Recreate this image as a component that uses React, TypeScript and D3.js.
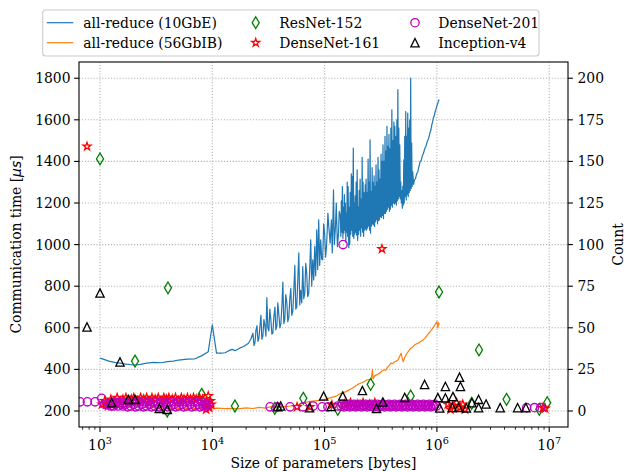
import React from 'react';
import * as d3 from 'd3';

// ---- chart data ----
// all-reduce time (µs) vs message size (bytes), 10GbE
const tenGbE: [number, number][] = [
  [1.0e3, 454], [1.1e3, 447], [1.2e3, 440], [1.35e3, 434], [1.5e3, 430], [1.7e3, 425], [2.0e3, 421],
  [2.3e3, 424], [2.6e3, 430], [3.0e3, 434], [3.5e3, 432], [4.0e3, 437], [4.5e3, 440], [5.0e3, 445],
  [6.0e3, 449], [7.0e3, 451], [8.0e3, 465], [9.2e3, 485], [1.0e4, 614], [1.09e4, 478], [1.2e4, 478],
  [1.3e4, 480], [1.4e4, 490], [1.5e4, 496], [1.6e4, 490], [1.75e4, 502], [1.9e4, 510], [2.1e4, 526],
  [2.2e4, 545],
  [2.30e4, 574], [2.35e4, 515], [2.40e4, 530], [2.45e4, 590], [2.50e4, 610], [2.55e4, 535], [2.60e4, 548],
  [2.65e4, 600], [2.71e4, 660], [2.76e4, 545], [2.82e4, 560], [2.88e4, 640], [2.94e4, 612], [3.00e4, 560],
  [3.06e4, 745], [3.12e4, 600], [3.19e4, 585], [3.25e4, 690], [3.32e4, 640], [3.39e4, 570], [3.46e4, 575],
  [3.53e4, 650], [3.61e4, 700], [3.68e4, 590], [3.76e4, 610], [3.83e4, 720], [3.91e4, 665], [4.00e4, 600],
  [4.08e4, 620], [4.16e4, 700], [4.25e4, 820], [4.33e4, 620], [4.42e4, 640], [4.51e4, 760], [4.61e4, 720],
  [4.70e4, 630], [4.80e4, 650], [4.90e4, 740], [5.00e4, 790], [5.10e4, 660], [5.21e4, 680], [5.32e4, 780],
  [5.43e4, 900], [5.54e4, 690], [5.65e4, 700], [5.77e4, 830], [5.89e4, 960], [6.01e4, 710], [6.13e4, 780],
  [6.26e4, 720], [6.39e4, 894], [6.52e4, 740], [6.66e4, 767], [6.79e4, 910], [6.93e4, 863], [7.07e4, 750],
  [7.22e4, 766], [7.37e4, 880], [7.52e4, 1023], [7.68e4, 800], [7.84e4, 927], [8.00e4, 830], [8.16e4, 991],
  [8.33e4, 850], [8.51e4, 1071], [8.68e4, 880], [8.86e4, 1119], [9.04e4, 900], [9.23e4, 1023], [9.42e4, 930],
  [9.61e4, 927], [9.81e4, 1100], [1.00e5, 1055], [1.02e5, 940], [1.04e5, 991], [1.07e5, 1150], [1.09e5, 1087],
  [1.12e5, 1007], [1.15e5, 1119], [1.17e5, 960], [1.20e5, 1263], [1.22e5, 1000], [1.25e5, 1087],
  [1.27e5, 1199], [1.30e5, 990], [1.33e5, 1055], [1.35e5, 1160], [1.38e5, 1135], [1.395e5, 1040],
  [1.41e5, 1210], [1.425e5, 1060], [1.44e5, 1279], [1.455e5, 1030], [1.47e5, 1180], [1.485e5, 1055],
  [1.50e5, 1240], [1.515e5, 1070], [1.53e5, 1199], [1.545e5, 1010], [1.56e5, 1150], [1.575e5, 1060],
  [1.59e5, 1300], [1.605e5, 1040], [1.62e5, 1279], [1.64e5, 985], [1.66e5, 1180], [1.675e5, 1000],
  [1.69e5, 1251], [1.71e5, 1050], [1.73e5, 1340], [1.745e5, 1070], [1.76e5, 1327], [1.78e5, 1040],
  [1.80e5, 1464], [1.82e5, 1030], [1.84e5, 1200], [1.855e5, 1050], [1.87e5, 1235], [1.89e5, 1060],
  [1.91e5, 1300], [1.93e5, 1045], [1.95e5, 1360], [1.97e5, 1020], [1.99e5, 1180], [2.01e5, 1050],
  [2.03e5, 1260], [2.05e5, 1070], [2.07e5, 1315], [2.095e5, 1040], [2.12e5, 1219], [2.14e5, 1080],
  [2.16e5, 1420], [2.18e5, 1060], [2.20e5, 1300], [2.225e5, 1040], [2.25e5, 1250], [2.275e5, 1070],
  [2.30e5, 1287], [2.32e5, 1075], [2.34e5, 1315], [2.365e5, 1070], [2.39e5, 1250], [2.415e5, 1080],
  [2.44e5, 1411], [2.465e5, 1090], [2.49e5, 1300], [2.515e5, 1070], [2.54e5, 1504], [2.565e5, 1055],
  [2.59e5, 1255], [2.62e5, 1090], [2.65e5, 1370], [2.675e5, 1100], [2.70e5, 1299], [2.73e5, 1095],
  [2.76e5, 1330], [2.785e5, 1087], [2.81e5, 1280], [2.84e5, 1110], [2.87e5, 1383], [2.90e5, 1120],
  [2.93e5, 1300], [2.96e5, 1100], [2.99e5, 1419], [3.02e5, 1115], [3.05e5, 1360], [3.08e5, 1120],
  [3.11e5, 1315], [3.145e5, 1135], [3.18e5, 1435], [3.21e5, 1130], [3.24e5, 1400], [3.275e5, 1140],
  [3.31e5, 1480], [3.345e5, 1125], [3.38e5, 1400], [3.415e5, 1150], [3.45e5, 1520], [3.485e5, 1150],
  [3.52e5, 1450], [3.555e5, 1160], [3.59e5, 1568], [3.625e5, 1170], [3.66e5, 1472], [3.70e5, 1180],
  [3.74e5, 1530], [3.775e5, 1160], [3.81e5, 1460], [3.85e5, 1170], [3.89e5, 1560], [3.93e5, 1190],
  [3.97e5, 1648], [4.01e5, 1180], [4.05e5, 1500], [4.095e5, 1200], [4.14e5, 1590], [4.18e5, 1195],
  [4.22e5, 1568], [4.265e5, 1200], [4.31e5, 1520], [4.355e5, 1190], [4.40e5, 1600], [4.445e5, 1210],
  [4.49e5, 1745], [4.535e5, 1220], [4.58e5, 1560], [4.625e5, 1231], [4.67e5, 1480], [4.72e5, 1220],
  [4.77e5, 1300], [4.82e5, 1200], [4.87e5, 1260], [4.92e5, 1175], [4.97e5, 1280], [5.02e5, 1190],
  [5.07e5, 1408], [5.12e5, 1200], [5.17e5, 1520], [5.225e5, 1230], [5.28e5, 1640], [5.335e5, 1215],
  [5.39e5, 1520], [5.445e5, 1240], [5.50e5, 1632], [5.555e5, 1230], [5.61e5, 1560], [5.67e5, 1250],
  [5.73e5, 1600], [5.785e5, 1260], [5.84e5, 1801], [5.90e5, 1270], [5.96e5, 1488], [6.02e5, 1280],
  [6.09e5, 1350], [6.2e5, 1290],
  [6.3e5, 1310], [6.45e5, 1318], [6.6e5, 1340], [6.75e5, 1348], [6.9e5, 1372], [7.1e5, 1400],
  [7.25e5, 1405], [7.4e5, 1425], [7.6e5, 1440], [7.8e5, 1462], [8.0e5, 1474], [8.2e5, 1495],
  [8.45e5, 1512], [8.7e5, 1540], [8.85e5, 1552], [9.0e5, 1575], [9.15e5, 1590], [9.3e5, 1610],
  [9.45e5, 1618], [9.6e5, 1635], [9.8e5, 1650], [1.0e6, 1668], [1.02e6, 1680], [1.035e6, 1692],
  [1.05e6, 1697],
];

// all-reduce time (µs) vs message size (bytes), 56Gb InfiniBand
const ib56: [number, number][] = [
  [1.0e3, 225], [1.2e3, 222], [1.5e3, 220], [2.0e3, 218], [3.0e3, 216], [4.0e3, 214], [5.0e3, 213],
  [7.0e3, 212], [9.0e3, 213], [1.0e4, 210], [1.1e4, 214], [1.3e4, 211], [1.5e4, 213], [1.7e4, 210],
  [2.0e4, 215], [2.3e4, 212], [2.6e4, 217], [3.0e4, 214], [3.4e4, 222], [3.8e4, 216], [4.3e4, 220],
  [5.0e4, 224], [5.8e4, 228], [6.5e4, 240], [7.5e4, 246], [8.5e4, 250], [1.0e5, 255], [1.1e5, 262],
  [1.25e5, 270], [1.4e5, 285], [1.55e5, 293], [1.7e5, 305], [1.85e5, 317], [2.0e5, 330], [2.2e5, 338],
  [2.4e5, 350], [2.6e5, 352], [2.67e5, 400], [2.7e5, 354], [2.8e5, 370], [2.95e5, 375], [3.1e5, 382],
  [3.25e5, 392], [3.4e5, 398], [3.5e5, 395], [3.6e5, 408], [3.75e5, 418], [3.9e5, 430], [4.05e5, 428],
  [4.2e5, 437], [4.35e5, 440], [4.5e5, 445], [4.65e5, 462], [4.8e5, 478], [4.9e5, 455], [5.0e5, 437],
  [5.15e5, 455], [5.3e5, 470], [5.55e5, 485], [5.8e5, 500], [6.1e5, 508], [6.4e5, 520], [6.75e5, 525],
  [7.1e5, 533], [7.45e5, 540], [7.8e5, 549], [8.2e5, 565], [8.7e5, 581], [9.1e5, 596], [9.6e5, 614],
  [1.0e6, 630], [1.02e6, 600], [1.035e6, 625], [1.05e6, 615],
];

// layer counts per parameter size (bytes)
const resnet152: [number, number][] = [
  [1000, 151.5], [4030, 74], [2050, 30], [8040, 10], [3970, 0], [1.59e4, 3], [3.6e4, 1.6],
  [6.46e4, 7.6], [1.31e5, 1], [2.57e5, 16], [5.84e5, 9], [1.044e6, 71.5], [2.04e6, 4.6],
  [2.37e6, 36.7], [4.17e6, 7], [8.16e6, 1], [9.6e6, 5],
];

const densenet161: [number, number][] = [
  [766, 159], [3.24e5, 97.4],
  [1040, 4], [1100, 6], [1180, 3], [1250, 7], [1330, 5], [1420, 8], [1500, 4], [1600, 7], [1700, 8],
  [1800, 5], [1900, 7], [2000, 8], [2150, 6], [2300, 8], [2450, 7], [2600, 8], [2750, 5], [2900, 8],
  [3100, 7], [3300, 8], [3500, 6], [3700, 8], [3900, 7], [4100, 8], [4400, 7], [4700, 8], [5000, 6],
  [5300, 8], [5600, 7], [6000, 8], [6400, 7], [6800, 8], [7200, 7], [7700, 8], [8200, 7], [8600, 3],
  [8800, 1], [9000, 5], [9200, 9], [9400, 2], [9600, 6], [9800, 4],
  [5.68e4, 2.4], [7.4e4, 2.4], [1.16e5, 3.6], [1.5e5, 4], [1.7e5, 5], [1.95e5, 4], [2.2e5, 5],
  [2.5e5, 4], [2.8e5, 5], [1.25e6, 4], [1.32e6, 1], [1.4e6, 3], [1.5e6, 5], [1.6e6, 2],
  [1.7e6, 4], [1.78e6, 1], [8.8e6, 2], [9.2e6, 1.5],
];

const densenet201: [number, number][] = [
  [1.46e5, 100],
  [664, 5.5], [771, 5.5], [903, 5.5], [1035, 7.6], [1100, 4],
  [1200, 4], [1240, 3], [1280, 5], [1320, 3], [1360, 4], [1400, 5], [1450, 3], [1500, 5], [1550, 4],
  [1600, 3], [1650, 5], [1700, 4], [1760, 2.5], [1820, 5.5], [1880, 3], [1940, 5.5], [2000, 4], [2070, 2.5],
  [2140, 5.5], [2210, 3], [2280, 5.5], [2360, 4], [2440, 2.5], [2520, 5.5], [2600, 3], [2690, 5.5], [2780, 4],
  [2870, 2.5], [2970, 5.5], [3070, 3], [3170, 5.5], [3280, 4], [3390, 2.5], [3500, 5.5], [3620, 3], [3740, 5.5],
  [3870, 4], [4000, 2.5], [4130, 5.5], [4270, 3], [4410, 5.5], [4560, 4], [4720, 2.5], [4880, 5.5], [5040, 3],
  [5210, 5.5], [5390, 4], [5570, 2.5], [5760, 5.5], [5950, 3], [6150, 5.5], [6360, 4], [6570, 2.5], [6790, 5.5],
  [7020, 3], [7260, 5.5], [7500, 4], [7760, 2.5], [8020, 5.5], [8290, 3], [8570, 4], [8860, 3], [9160, 4],
  [3.27e4, 2.5], [3.77e4, 2.5], [4.92e4, 2.5], [6.43e4, 2.5], [7.89e4, 3], [9.5e4, 2.5], [1.07e5, 2.5],
  [1.31e5, 3],
  [1.40e5, 3], [1.44e5, 4], [1.49e5, 2.5], [1.53e5, 3.5], [1.58e5, 3], [1.63e5, 4], [1.68e5, 2.5],
  [1.73e5, 3.5], [1.78e5, 3], [1.83e5, 4], [1.89e5, 2.5], [1.95e5, 3.5], [2.01e5, 3], [2.07e5, 4],
  [2.13e5, 2.5], [2.19e5, 3.5], [2.26e5, 3], [2.33e5, 4], [2.40e5, 2.5], [2.47e5, 3.5], [2.54e5, 3],
  [2.62e5, 4], [2.70e5, 2.5], [2.78e5, 3.5], [2.86e5, 3], [2.95e5, 4], [3.04e5, 2.5], [3.13e5, 3.5],
  [3.22e5, 3], [3.32e5, 4], [3.42e5, 2.5], [3.52e5, 3.5], [3.63e5, 3], [3.74e5, 4], [3.85e5, 2.5],
  [3.96e5, 3.5], [4.08e5, 3], [4.20e5, 4], [4.33e5, 2.5], [4.46e5, 3.5], [4.59e5, 3], [4.73e5, 4],
  [4.87e5, 2.5], [5.02e5, 3.5], [5.17e5, 3], [5.32e5, 4], [5.48e5, 2.5], [5.65e5, 3.5], [5.82e5, 3],
  [5.99e5, 4], [6.17e5, 2.5], [6.36e5, 3.5], [6.55e5, 3], [6.74e5, 4], [6.95e5, 2.5], [7.15e5, 3.5],
  [7.37e5, 3], [7.59e5, 4], [7.82e5, 2.5], [8.05e5, 3.5], [8.29e5, 3], [8.54e5, 4], [8.80e5, 2.5],
  [9.06e5, 3.5], [9.33e5, 3], [9.61e5, 4], [9.90e5, 3],
  [6.3e6, 2], [7.4e6, 2], [8.4e6, 2],
];

const inceptionV4: [number, number][] = [
  [766, 50.5], [1000, 70.9], [1507, 29.5], [1271, 5], [1787, 7], [2050, 7], [3374, 1.6], [3972, 1],
  [3.82e4, 2.6], [4.06e4, 3], [7.33e4, 2], [9.8e4, 9], [1.14e5, 2.7], [1.45e5, 9], [2.17e5, 12.3],
  [2.9e5, 1.6], [3.3e5, 5.4], [5.17e5, 8.2], [7.77e5, 16], [1.02e6, 8.1], [1.06e6, 1.8], [1.19e6, 14.8],
  [1.19e6, 7.9], [1.39e6, 8.7], [1.59e6, 20.3], [1.62e6, 14.8], [1.37e6, 2.1], [1.56e6, 2.1],
  [1.83e6, 1.8], [2.05e6, 5], [2.35e6, 7], [2.35e6, 2], [2.74e6, 4.2], [3.66e6, 2], [5.23e6, 2],
  [6.2e6, 2],
];

const timeTicks = [200, 400, 600, 800, 1000, 1200, 1400, 1600, 1800];
const countTicks = [0, 25, 50, 75, 100, 125, 150, 175, 200];
const sizeTicks = [1e3, 1e4, 1e5, 1e6, 1e7];
const sizeExponents = ['3', '4', '5', '6', '7'];

// ---- layout ----
const W = 626;
const H = 472;
const L = 79, R = 568, T = 62, B = 427;
const FONT = '"DejaVu Serif", "Liberation Serif", serif';
const FS = 13.9;

const COLORS = {
  tenGbE: '#1f77b4',
  ib56: '#ff7f0e',
  resnet: 'green',
  dn161: 'red',
  dn201: '#bf00bf',
  incep: 'black',
};

// marker outlines (markersize 6pt)
const MS = 8.33;
const diamondPath = (() => {
  const h = MS * 0.7071, w = h * 0.6;
  return `M0,${-h}L${w},0L0,${h}L${-w},0Z`;
})();
const trianglePath = `M0,${-MS / 2}L${MS / 2},${MS / 2}L${-MS / 2},${MS / 2}Z`;
const starPath = (() => {
  const ro = MS / 2, ri = ro * 0.381966;
  const pts: string[] = [];
  for (let i = 0; i < 10; i++) {
    const r = i % 2 === 0 ? ro : ri;
    const a = -Math.PI / 2 + (i * Math.PI) / 5;
    pts.push(`${(r * Math.cos(a)).toFixed(2)},${(r * Math.sin(a)).toFixed(2)}`);
  }
  return 'M' + pts.join('L') + 'Z';
})();

type MarkerKind = 'diamond' | 'star' | 'circle' | 'triangle';

function Marker({ kind, cx, cy, color }: { kind: MarkerKind; cx: number; cy: number; color: string }) {
  const common = { fill: 'none', stroke: color, strokeWidth: 1.3 };
  if (kind === 'circle') return <circle cx={cx} cy={cy} r={MS / 2} {...common} />;
  const d = kind === 'diamond' ? diamondPath : kind === 'star' ? starPath : trianglePath;
  return <path d={d} transform={`translate(${cx},${cy})`} {...common} strokeLinejoin="miter" />;
}

export default function App() {
  const x = d3.scaleLog().domain([650, 1.47e7]).range([L, R]);
  const yTime = d3.scaleLinear().domain([123, 1878]).range([B, T]);
  const yCount = d3.scaleLinear().domain([-9.625, 209.75]).range([B, T]);

  const line = d3
    .line<[number, number]>()
    .x((d) => x(d[0]))
    .y((d) => yTime(d[1]));

  const minorTicks = x.ticks().filter((t) => {
    const lg = Math.log10(t);
    return Math.abs(lg - Math.round(lg)) > 1e-6;
  });

  const series: { data: [number, number][]; kind: MarkerKind; color: string }[] = [
    { data: resnet152, kind: 'diamond', color: COLORS.resnet },
    { data: densenet161, kind: 'star', color: COLORS.dn161 },
    { data: densenet201, kind: 'circle', color: COLORS.dn201 },
    { data: inceptionV4, kind: 'triangle', color: COLORS.incep },
  ];

  const legendRows = [22.7, 42.7];

  return (
    <svg
      width={W}
      height={H}
      viewBox={`0 0 ${W} ${H}`}
      style={{ position: 'absolute', left: 0, top: 0, background: '#fff', fontFamily: FONT, fontSize: FS }}
    >
      <defs>
        <clipPath id="plot-area">
          <rect x={L} y={T} width={R - L} height={B - T} />
        </clipPath>
      </defs>
      <rect x={0} y={0} width={W} height={H} fill="#fff" />

      {/* grid */}
      <g stroke="#b0b0b0" strokeWidth={1.1} strokeDasharray="1.1,1.8">
        {sizeTicks.map((t) => (
          <line key={'gx' + t} x1={x(t)} x2={x(t)} y1={T} y2={B} />
        ))}
        {timeTicks.map((t) => (
          <line key={'gy' + t} x1={L} x2={R} y1={yTime(t)} y2={yTime(t)} />
        ))}
      </g>

      {/* all-reduce curves */}
      <g clipPath="url(#plot-area)" fill="none">
        <path d={line(tenGbE) || ''} stroke={COLORS.tenGbE} strokeWidth={1.2} strokeLinejoin="round" />
        <path d={line(ib56) || ''} stroke={COLORS.ib56} strokeWidth={1.2} strokeLinejoin="round" />
      </g>

      {/* layer counts */}
      <g clipPath="url(#plot-area)">
        {series.map((s) =>
          s.data.map((d, i) => (
            <Marker key={s.kind + i} kind={s.kind} cx={x(d[0])} cy={yCount(d[1])} color={s.color} />
          ))
        )}
      </g>

      {/* frame */}
      <rect x={L} y={T} width={R - L} height={B - T} fill="none" stroke="#000" strokeWidth={1.1} />

      {/* bottom axis */}
      <g>
        {sizeTicks.map((t, i) => (
          <g key={'xt' + t}>
            <line x1={x(t)} x2={x(t)} y1={B} y2={B + 4.9} stroke="#000" strokeWidth={1.1} />
            <text x={x(t)} y={450} textAnchor="middle" fill="#000">
              <tspan>10</tspan>
              <tspan dy={-6.5} fontSize={9.7}>
                {sizeExponents[i]}
              </tspan>
            </text>
          </g>
        ))}
        {minorTicks.map((t) => (
          <line key={'xm' + t} x1={x(t)} x2={x(t)} y1={B} y2={B + 2.8} stroke="#000" strokeWidth={0.8} />
        ))}
        <text x={(L + R) / 2} y={468} textAnchor="middle" fill="#000">
          Size of parameters [bytes]
        </text>
      </g>

      {/* left axis */}
      <g>
        {timeTicks.map((t) => (
          <g key={'yl' + t}>
            <line x1={L - 4.9} x2={L} y1={yTime(t)} y2={yTime(t)} stroke="#000" strokeWidth={1.1} />
            <text x={L - 8.5} y={yTime(t)} dy="0.36em" textAnchor="end" fill="#000">
              {t}
            </text>
          </g>
        ))}
        <text transform={`translate(16,${(T + B) / 2}) rotate(-90)`} textAnchor="middle" dy="0.36em" fill="#000">
          Communication time [
          <tspan style={{ fontFamily: '"DejaVu Sans", sans-serif', fontStyle: 'italic' }}>μs</tspan>]
        </text>
      </g>

      {/* right axis */}
      <g>
        {countTicks.map((t) => (
          <g key={'yr' + t}>
            <line x1={R} x2={R + 4.9} y1={yCount(t)} y2={yCount(t)} stroke="#000" strokeWidth={1.1} />
            <text x={R + 9.5} y={yCount(t)} dy="0.36em" textAnchor="start" fill="#000">
              {t}
            </text>
          </g>
        ))}
        <text transform={`translate(618,${(T + B) / 2}) rotate(-90)`} textAnchor="middle" dy="0.36em" fill="#000">
          Count
        </text>
      </g>

      {/* legend */}
      <g>
        <rect x={42.7} y={10} width={496.3} height={46} rx={3} fill="#fff" fillOpacity={0.8} stroke="#cccccc" strokeWidth={1.1} />
        <line x1={46.7} x2={73.3} y1={legendRows[0]} y2={legendRows[0]} stroke={COLORS.tenGbE} strokeWidth={1.2} />
        <text x={83.3} y={legendRows[0]} dy="0.36em" fill="#000">all-reduce (10GbE)</text>
        <line x1={46.7} x2={73.3} y1={legendRows[1]} y2={legendRows[1]} stroke={COLORS.ib56} strokeWidth={1.2} />
        <text x={83.3} y={legendRows[1]} dy="0.36em" fill="#000">all-reduce (56GbIB)</text>

        <Marker kind="diamond" cx={255.7} cy={legendRows[0]} color={COLORS.resnet} />
        <text x={279.3} y={legendRows[0]} dy="0.36em" fill="#000">ResNet-152</text>
        <Marker kind="star" cx={255.7} cy={legendRows[1]} color={COLORS.dn161} />
        <text x={279.3} y={legendRows[1]} dy="0.36em" fill="#000">DenseNet-161</text>

        <Marker kind="circle" cx={415} cy={legendRows[0]} color={COLORS.dn201} />
        <text x={438.3} y={legendRows[0]} dy="0.36em" fill="#000">DenseNet-201</text>
        <Marker kind="triangle" cx={415} cy={legendRows[1]} color={COLORS.incep} />
        <text x={438.3} y={legendRows[1]} dy="0.36em" fill="#000">Inception-v4</text>
      </g>
    </svg>
  );
}
